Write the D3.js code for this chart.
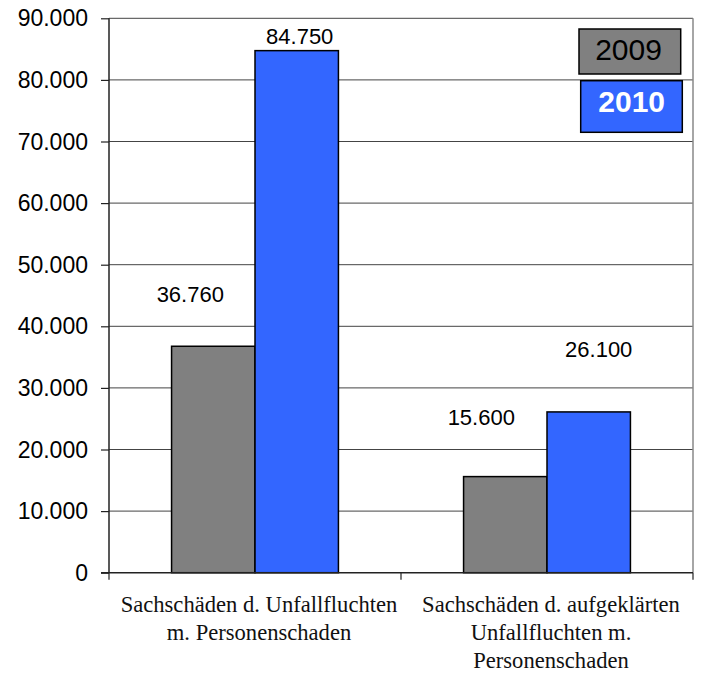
<!DOCTYPE html>
<html>
<head>
<meta charset="utf-8">
<script src="https://cdn.jsdelivr.net/npm/d3@7"></script>
<style>
  html, body { margin: 0; padding: 0; background: #fff; }
  svg { display: block; }
</style>
</head>
<body>
<svg id="chart" width="701" height="674"></svg>
<script>
// ---- data ----
const categories = [
  ["Sachschäden d. Unfallfluchten", "m. Personenschaden"],
  ["Sachschäden d. aufgeklärten", "Unfallfluchten m.", "Personenschaden"]
];
const series = ["2009", "2010"];
const values2009 = [36760, 15600];
const values2010 = [84750, 26100];
const yTicks = [0, 10000, 20000, 30000, 40000, 50000, 60000, 70000, 80000, 90000];

(function () {
// ---- layout (not data) ----
const colors = { "2009": "#808080", "2010": "#3366FF" };
// manual label offsets relative to bar centre / bar top, as in the reference
const labelOffsets = {
  "2009": [[-23, -44], [-24, -52]],
  "2010": [[3, -7], [10, -55]]
};

const de = d3.formatLocale({ decimal: ",", thousands: ".", grouping: [3], currency: ["", " €"] });
const fmt = de.format(",.0f");

const svg = d3.select("#chart");
const pLeft = 109, pRight = 693, pTop = 18.3, pBottom = 572.7;

const x = d3.scaleBand().domain(d3.range(categories.length)).range([pLeft, pRight]).padding(0);
const xs = d3.scaleBand().domain(series).range([0, x.bandwidth()]).paddingInner(0).paddingOuter(0.75);
const y = d3.scaleLinear().domain([0, 90000]).range([pBottom, pTop]);

// gridlines
svg.append("g").selectAll("line").data(yTicks.filter(d => d > 0)).join("line")
  .attr("x1", pLeft).attr("x2", pRight)
  .attr("y1", d => y(d)).attr("y2", d => y(d))
  .attr("stroke", "#444").attr("stroke-width", 1);

// right border
svg.append("line").attr("x1", pRight).attr("x2", pRight).attr("y1", pTop).attr("y2", pBottom)
  .attr("stroke", "#888").attr("stroke-width", 1.5);

// bars
const rows = [];
categories.forEach((c, i) => {
  rows.push({ i, s: "2009", v: values2009[i] });
  rows.push({ i, s: "2010", v: values2010[i] });
});
svg.append("g").selectAll("rect").data(rows).join("rect")
  .attr("x", d => x(d.i) + xs(d.s))
  .attr("width", xs.bandwidth())
  .attr("y", d => y(d.v))
  .attr("height", d => y(0) - y(d.v))
  .attr("fill", d => colors[d.s])
  .attr("stroke", "#000").attr("stroke-width", 1.5);

// value labels
svg.append("g").selectAll("text").data(rows).join("text")
  .attr("x", d => x(d.i) + xs(d.s) + xs.bandwidth() / 2 + labelOffsets[d.s][d.i][0])
  .attr("y", d => y(d.v) + labelOffsets[d.s][d.i][1])
  .attr("text-anchor", "middle")
  .attr("font-family", "Liberation Sans, Arial, sans-serif")
  .attr("font-size", 22)
  .attr("fill", "#000")
  .text(d => fmt(d.v));

// y axis
const yAxis = d3.axisLeft(y).tickValues(yTicks).tickFormat(fmt).tickSize(8).tickPadding(13);
const gy = svg.append("g").attr("transform", `translate(${pLeft},0)`).call(yAxis);
gy.select(".domain").attr("stroke", "#222").attr("stroke-width", 1.5).attr("d", `M0,${pTop}V${pBottom}`);
gy.selectAll(".tick line").attr("stroke", "#222").attr("stroke-width", 1.2);
gy.selectAll(".tick text")
  .attr("font-family", "Liberation Sans, Arial, sans-serif")
  .attr("font-size", 23).attr("fill", "#000").attr("dy", "0.33em");

// x axis
const xTickPos = [pLeft, (pLeft + pRight) / 2, pRight];
const gx = svg.append("g");
gx.append("line").attr("x1", pLeft - 8).attr("x2", pRight).attr("y1", pBottom).attr("y2", pBottom)
  .attr("stroke", "#222").attr("stroke-width", 1.5);
gx.selectAll("line.t").data(xTickPos).join("line").attr("class", "t")
  .attr("x1", d => d).attr("x2", d => d).attr("y1", pBottom).attr("y2", pBottom + 7)
  .attr("stroke", "#222").attr("stroke-width", 1.2);

// category labels
const cl = svg.append("g").selectAll("text").data(categories).join("text")
  .attr("text-anchor", "middle")
  .attr("font-family", "Liberation Serif, 'Times New Roman', serif")
  .attr("font-size", 22.6).attr("fill", "#111")
  .attr("transform", (d, i) => `translate(${x(i) + x.bandwidth() / 2 + 4},0)`);
cl.selectAll("tspan").data(d => d).join("tspan")
  .attr("x", 0).attr("y", (d, j) => 611.7 + j * 28.2).text(d => d);

// legend
const legend = [
  { s: "2009", x: 579, y: 29, w: 101.7, h: 45, tx: 628.5, ty: 59.5, weight: "normal", color: "#000" },
  { s: "2010", x: 580.7, y: 80.7, w: 101.6, h: 51.6, tx: 631.7, ty: 111.7, weight: "bold", color: "#fff" }
];
const lg = svg.append("g").selectAll("g").data(legend).join("g");
lg.append("rect").attr("x", d => d.x).attr("y", d => d.y).attr("width", d => d.w).attr("height", d => d.h)
  .attr("fill", d => colors[d.s]).attr("stroke", "#000").attr("stroke-width", 1.5);
lg.append("text").attr("x", d => d.tx).attr("y", d => d.ty).attr("text-anchor", "middle")
  .attr("font-family", "Liberation Sans, Arial, sans-serif").attr("font-size", 30)
  .attr("font-weight", d => d.weight).attr("fill", d => d.color).text(d => d.s);
})();
</script>
</body>
</html>
